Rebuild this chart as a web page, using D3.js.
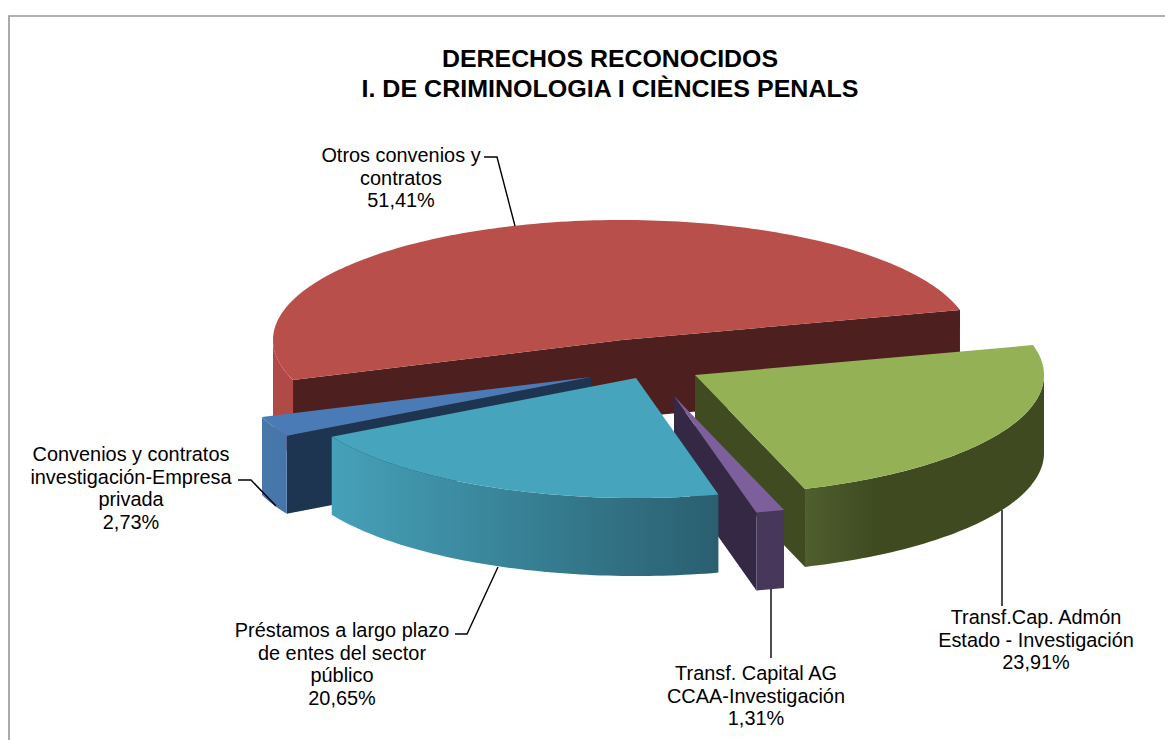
<!DOCTYPE html>
<html>
<head>
<meta charset="utf-8">
<script src="https://cdn.jsdelivr.net/npm/d3@7"></script>
<style>
    html, body { margin: 0; padding: 0; background: #fff; overflow: hidden; }
    text { font-family: "Liberation Sans", Arial, sans-serif; fill: #000; }
</style>
</head>
<body>
<div class="graph"></div>
<script>
var categories = [
    ['Otros convenios y', 'contratos'],
    ['Transf.Cap. Admón', 'Estado - Investigación'],
    ['Transf. Capital AG', 'CCAA-Investigación'],
    ['Préstamos a largo plazo', 'de entes del sector', 'público'],
    ['Convenios y contratos', 'investigación-Empresa', 'privada']
];
var shares = [51.41, 23.91, 1.31, 20.65, 2.73];
var titleLines = ['DERECHOS RECONOCIDOS', 'I. DE CRIMINOLOGIA I CIÈNCIES PENALS'];

// colours, same order as the slices
var topColors = ['#b84f4a', '#94b155', '#7d5f9b', '#46a4bd', '#4a7bb6'];
var cutColors = ['#4d1f1e', '#404b21', '#342845', '#2a5f70', '#1d3550'];
var wallFrom = ['#b04a46', '#4f5f2d', '#47375b', '#45a1b9', '#4877ac'];
var wallTo = ['#b04a46', '#3f4a21', '#47375b', '#2a5f70', '#4675aa'];

// how far each slice is pulled out of the pie, px
var explodeX = [-26, 47, 26, -12, -57];
var explodeY = [-22, 13, 34, 16, 15];
var drawOrder = [0, 1, 2, 4, 3];

// label anchors and leader lines, same order as the slices
var labelX = [401, 1036, 756, 342, 131];
var labelY = [162, 624, 680, 637, 461];
var leaders = [
    [[484, 157], [497, 157], [515, 226]],
    [[1002, 510], [1002, 606]],
    [[771, 589], [771, 658]],
    [[455, 634], [467, 634], [498, 567]],
    [[238, 480], [251, 480], [276, 506]]
];

var width = 1165;
var height = 740;
var centerX = 648;
var centerY = 362;
var radiusX = 349;
var radiusY = 120;
var depth = 78;
var labelStep = 22.6;

document.addEventListener('DOMContentLoaded', function () {
    var svg = d3
        .select('.graph')
        .append('svg')
        .attr('width', width)
        .attr('height', height)
        .style('display', 'block');

    var defs = svg.append('defs');

    var xScale = d3.scaleLinear().domain([-1, 1]).range([-radiusX, radiusX]);
    var yScale = d3.scaleLinear().domain([-1, 1]).range([radiusY, -radiusY]);
    var percent = d3.formatLocale({ decimal: ',', thousands: '.', grouping: [3], currency: ['', '€'] }).format('.2f');

    var start = (250.5 * Math.PI) / 180;
    var pie = d3
        .pie()
        .sort(null)
        .startAngle(start)
        .endAngle(start + 2 * Math.PI);
    var arcs = pie(shares);

    var line = d3.line();

    function point(i, angle, drop) {
        return [
            centerX + explodeX[i] + xScale(Math.sin(angle)),
            centerY + explodeY[i] + yScale(Math.cos(angle)) + drop
        ];
    }

    function rimPoints(i, a0, a1, drop) {
        var n = Math.max(2, Math.ceil((a1 - a0) / 0.02));
        return d3.range(n + 1).map(function (k) {
            return point(i, a0 + ((a1 - a0) * k) / n, drop);
        });
    }

    function apex(i, drop) {
        return [centerX + explodeX[i], centerY + explodeY[i] + drop];
    }

    function cutFace(i, angle) {
        return line([apex(i, 0), point(i, angle, 0), point(i, angle, depth), apex(i, depth)]) + 'Z';
    }

    // front part of the rim only, the rest is hidden under the top face
    function frontRanges(a0, a1) {
        var out = [];
        for (var turn = 0; turn < 2; turn++) {
            var lo = Math.max(a0, Math.PI / 2 + turn * 2 * Math.PI);
            var hi = Math.min(a1, (3 * Math.PI) / 2 + turn * 2 * Math.PI);
            if (hi > lo) out.push([lo, hi]);
        }
        return out;
    }

    drawOrder.forEach(function (i) {
        var d = arcs[i];
        var g = svg.append('g').attr('class', 'slice');

        // cut faces looking towards the viewer
        if (Math.sin(d.startAngle) < 0) {
            g.append('path').attr('d', cutFace(i, d.startAngle)).attr('fill', cutColors[i]);
        }
        if (Math.sin(d.endAngle) > 0) {
            g.append('path').attr('d', cutFace(i, d.endAngle)).attr('fill', cutColors[i]);
        }

        frontRanges(d.startAngle, d.endAngle).forEach(function (r) {
            var upper = rimPoints(i, r[0], r[1], 0);
            var lower = rimPoints(i, r[0], r[1], depth).reverse();
            var xs = d3.extent(upper, function (p) { return p[0]; });
            var id = 'wall' + i;
            var grad = defs
                .append('linearGradient')
                .attr('id', id)
                .attr('gradientUnits', 'userSpaceOnUse')
                .attr('x1', xs[0])
                .attr('x2', i === 1 ? xs[0] + 70 : xs[1])
                .attr('y1', 0)
                .attr('y2', 0);
            // the teal and green walls run light to dark starting from their left end
            grad.append('stop').attr('offset', 0).attr('stop-color', wallFrom[i]);
            grad.append('stop').attr('offset', 1).attr('stop-color', wallTo[i]);
            g.append('path')
                .attr('d', line(upper.concat(lower)) + 'Z')
                .attr('fill', 'url(#' + id + ')');
        });

        g.append('path')
            .attr('d', line([apex(i, 0)].concat(rimPoints(i, d.startAngle, d.endAngle, 0))) + 'Z')
            .attr('fill', topColors[i]);
    });

    // chart frame, open on the right and at the bottom
    svg.append('path')
        .attr('d', line([[9, height], [9, 16], [width, 16]]))
        .attr('fill', 'none')
        .attr('stroke', '#969696')
        .attr('stroke-width', 1.6);

    svg.append('g')
        .selectAll('text')
        .data(titleLines)
        .enter()
        .append('text')
        .attr('x', 610)
        .attr('y', function (d, i) { return 67 + i * 30; })
        .attr('text-anchor', 'middle')
        .attr('font-size', 24)
        .attr('font-weight', 'bold')
        .attr('textLength', function (d, i) { return i === 0 ? 336 : 497; })
        .attr('lengthAdjust', 'spacingAndGlyphs')
        .text(function (d) { return d; });

    svg.append('g')
        .selectAll('path')
        .data(leaders)
        .enter()
        .append('path')
        .attr('d', function (d) { return line(d); })
        .attr('fill', 'none')
        .attr('stroke', '#000')
        .attr('stroke-width', 1.4);

    categories.forEach(function (lines, i) {
        var all = lines.concat(percent(shares[i]) + '%');
        svg.append('text')
            .attr('text-anchor', 'middle')
            .attr('font-size', 19.9)
            .selectAll('tspan')
            .data(all)
            .enter()
            .append('tspan')
            .attr('x', labelX[i])
            .attr('y', function (d, k) { return labelY[i] + k * labelStep; })
            .text(function (d) { return d; });
    });
});
</script>
</body>
</html>
